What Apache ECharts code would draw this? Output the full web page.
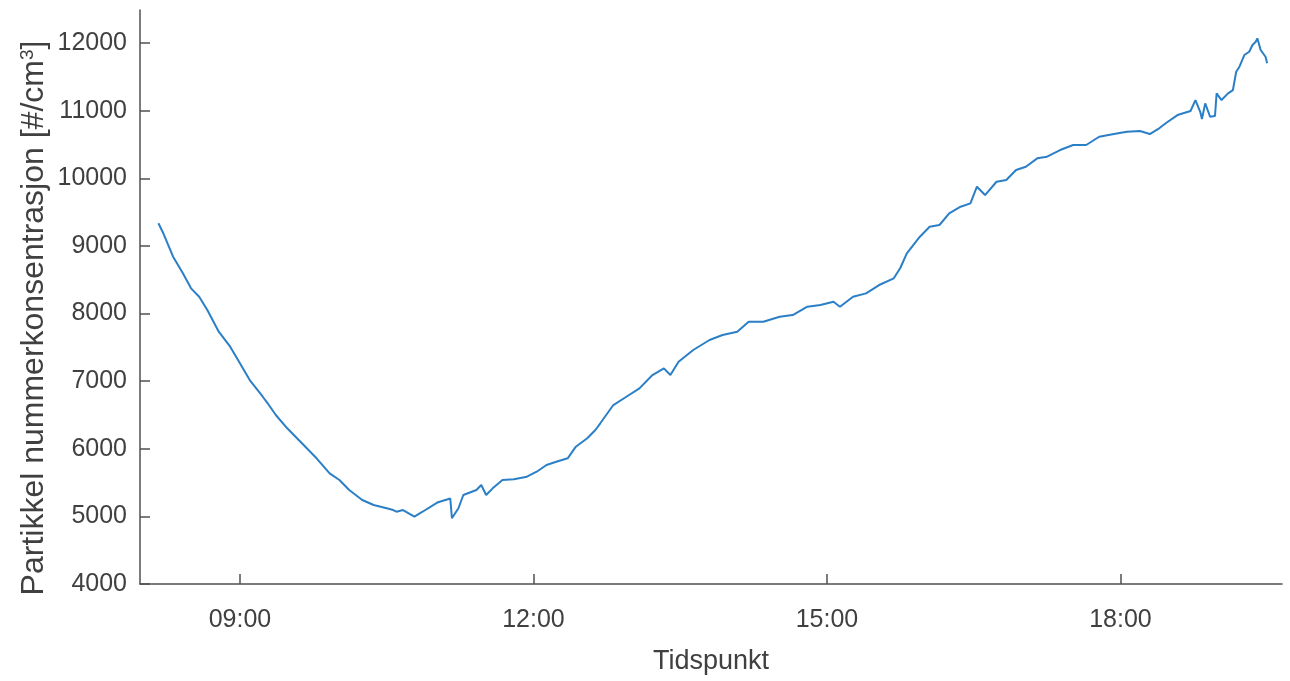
<!DOCTYPE html>
<html>
<head>
<meta charset="utf-8">
<title>Partikkel nummerkonsentrasjon</title>
<script src="https://cdn.jsdelivr.net/npm/echarts@6/dist/echarts.min.js"></script>
<style>
  html, body { margin: 0; padding: 0; background: #ffffff; }
  #chart { width: 1290px; height: 681px; }
</style>
</head>
<body>
<div id="chart"></div>
<script>
// Measurement times (HH:MM) and particle number concentration [#/cm3]
const times = [
  '08:10','08:13','08:19','08:25','08:30','08:35','08:40','08:47','08:54','09:00',
  '09:06','09:14','09:17','09:22','09:29','09:35','09:41','09:47','09:55','10:01',
  '10:07','10:15','10:22','10:30','10:34','10:36','10:40','10:47','10:52','11:01',
  '11:09','11:10','11:14','11:17','11:25','11:28','11:31','11:35','11:41','11:48',
  '11:56','12:02','12:08','12:14','12:21','12:26','12:33','12:38','12:41','12:49',
  '12:57','13:05','13:13','13:20','13:24','13:29','13:38','13:48','13:56','14:05',
  '14:12','14:21','14:31','14:39','14:48','14:56','15:04','15:08','15:16','15:24',
  '15:32','15:41','15:45','15:49','15:57','16:03','16:09','16:15','16:22','16:28',
  '16:32','16:37','16:44','16:50','16:56','17:02','17:09','17:15','17:23','17:31',
  '17:39','17:47','17:56','18:04','18:12','18:18','18:24','18:28','18:35','18:43',
  '18:46','18:49','18:50','18:52','18:55','18:58','18:59','19:02','19:06','19:09',
  '19:11','19:13','19:16','19:19','19:21','19:23','19:24','19:26','19:29','19:30'
];
const concentration = [
  9335, 9187, 8841, 8595, 8373, 8249, 8052, 7732, 7510, 7264,
  7017, 6770, 6673, 6500, 6303, 6155, 6007, 5859, 5637, 5538,
  5390, 5242, 5168, 5120, 5094, 5069, 5094, 4998, 5069, 5205,
  5265, 4972, 5120, 5316, 5390, 5464, 5316, 5415, 5538, 5550,
  5587, 5661, 5760, 5809, 5859, 6031, 6155, 6278, 6377, 6647,
  6770, 6894, 7091, 7190, 7091, 7288, 7461, 7609, 7683, 7732,
  7879, 7879, 7953, 7978, 8101, 8126, 8175, 8101, 8249, 8299,
  8422, 8521, 8674, 8891, 9137, 9284, 9310, 9483, 9580, 9630,
  9876, 9753, 9950, 9975, 10123, 10172, 10296, 10320, 10419, 10493,
  10493, 10615, 10655, 10689, 10700, 10655, 10744, 10818, 10936, 10996,
  11158, 10981, 10877, 11109, 10911, 10922, 11257, 11158, 11257, 11306,
  11577, 11651, 11824, 11873, 11972, 12021, 12071, 11898, 11799, 11701
];
// Axis tick positions
const xTickLabels = ['09:00', '12:00', '15:00', '18:00'];
const yTickValues = [4000, 5000, 6000, 7000, 8000, 9000, 10000, 11000, 12000];

const toMinutes = s => {
  const [h, m] = s.split(':').map(Number);
  return h * 60 + m;
};
const pad = n => String(n).padStart(2, '0');
const toClock = v => pad(Math.floor(v / 60)) + ':' + pad(Math.round(v % 60));

const seriesData = times.map((t, i) => [toMinutes(t), concentration[i]]);
const xTickValues = xTickLabels.map(toMinutes);

const axisColor = '#505050';
const textColor = '#404040';
const fontFamily = '"Liberation Sans", Arial, Helvetica, sans-serif';

const chart = echarts.init(document.getElementById('chart'), null, { renderer: 'canvas' });
chart.setOption({
  animation: false,
  backgroundColor: '#ffffff',
  grid: { left: 140, right: 8, top: 10, bottom: 97 },
  xAxis: {
    type: 'value',
    min: 478.7,
    max: 1179.1,
    name: 'Tidspunkt',
    nameLocation: 'middle',
    nameGap: 64,
    nameMoveOverlap: false,
    nameTextStyle: { color: textColor, fontSize: 27, fontFamily },
    axisLine: { show: true, onZero: false, lineStyle: { color: axisColor, width: 1.5 } },
    axisTick: { show: true, inside: true, length: 10, customValues: xTickValues,
                lineStyle: { color: axisColor, width: 1.5 } },
    axisLabel: { customValues: xTickValues, formatter: v => toClock(v),
                 color: textColor, fontSize: 25, fontFamily, margin: 24 },
    splitLine: { show: false }
  },
  yAxis: {
    type: 'value',
    min: 4000,
    max: 12490,
    name: 'Partikkel nummerkonsentrasjon [#/cm{sup|3}]',
    nameLocation: 'middle',
    nameGap: 90,
    nameMoveOverlap: false,
    nameTextStyle: {
      color: textColor, fontSize: 32, fontFamily,
      padding: [0, 42, 0, 0],
      rich: {
        sup: { fontSize: 19, color: textColor, fontFamily, verticalAlign: 'top', lineHeight: 32 }
      }
    },
    axisLine: { show: true, lineStyle: { color: axisColor, width: 1.5 } },
    axisTick: { show: true, inside: true, length: 10, customValues: yTickValues,
                lineStyle: { color: axisColor, width: 1.5 } },
    axisLabel: { customValues: yTickValues, formatter: v => String(v),
                 color: textColor, fontSize: 25, fontFamily, margin: 13 },
    splitLine: { show: false }
  },
  series: [{
    type: 'line',
    data: seriesData,
    showSymbol: false,
    smooth: false,
    lineStyle: { color: '#2b7fc6', width: 2 },
    emphasis: { disabled: true }
  }]
});
</script>
</body>
</html>
